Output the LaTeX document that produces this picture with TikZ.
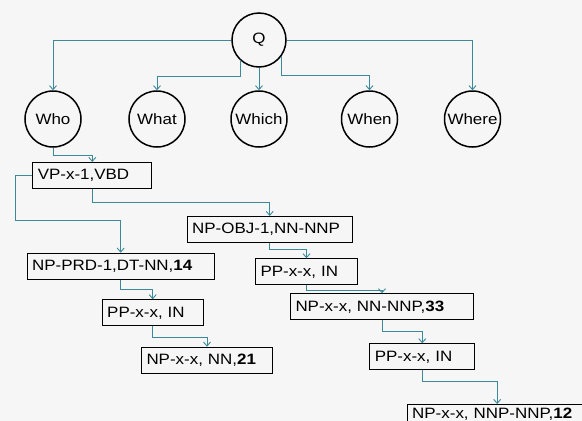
\documentclass[tikz,border=0pt]{standalone}
\usepackage{fontspec}
\setmainfont{Liberation Sans}[FakeStretch=1.13]
\usetikzlibrary{arrows.meta}
\definecolor{linkteal}{RGB}{58,138,155}
\definecolor{paper}{RGB}{246,246,246}

\begin{document}
\begin{tikzpicture}[
    x=1pt, y=-1pt,
    qnode/.style={circle, draw, line width=1.5pt, minimum size=#1, inner sep=0pt, font=\fontsize{15}{18}\selectfont},
    tag/.style={rectangle, draw, line width=1pt, anchor=north west, text width=#1, align=left, minimum height=26pt, inner xsep=5pt, inner ysep=0pt, font=\fontsize{15}{18}\selectfont},
    arrow/.style={-{Straight Barb[length=4pt,width=7pt]}, draw=linkteal, line width=0.9pt}
]

% Background
\path[use as bounding box, fill=paper] (0,0) rectangle (582,421);

% Question root and wh-words
\node[qnode=54] (q) at (259,40) {Q};
\node[qnode=56] (who) at (53,119) {Who};
\node[qnode=56] (what) at (157,119) {What};
\node[qnode=56] (which) at (259,119) {Which};
\node[qnode=56] (when) at (369.5,119) {When};
\node[qnode=56] (where) at (472.5,119) {Where};

% Parse boxes
\node[tag=109] (vp) at (32.3,162) {VP-x-1,VBD};
\node[tag=155] (npobj) at (186.7,216) {NP-OBJ-1,NN-NNP};
\node[tag=177] (nprd) at (26.7,252.7) {NP-PRD-1,DT-NN,\textbf{14}};
\node[tag=91] (ppleft) at (101.7,299.3) {PP-x-x, IN};
\node[tag=121] (npnn) at (141,346.7) {NP-x-x, NN,\textbf{21}};
\node[tag=92] (ppright) at (255,258.3) {PP-x-x, IN};
\node[tag=173] (npnnp) at (290,293.3) {NP-x-x, NN-NNP,\textbf{33}};
\node[tag=95] (pplast) at (369.3,343.3) {PP-x-x, IN};
\node[tag=170, minimum height=18.5pt] (npend) at (406.7,404) {NP-x-x, NNP-NNP,\textbf{12}};

% Arrows from Q
\draw[arrow] (q.west) -| (who.north);
\draw[arrow] (q.227) -- ++(0,16) -| (what.north);
\draw[arrow] (q.south) -- (which.north);
\draw[arrow] (q.-35) -- ++(0,20) -| (when.north);
\draw[arrow] (q.east) -| (where.north);

% Arrows down the parse
\draw[arrow] (who.south) -- ++(0,7.5) -| (vp.north);
\draw[arrow] (vp.west) -- ++(-17.3,0) -- ++(0,45) -| (nprd.north);
\draw[arrow] (vp.south) -- ++(0,13.7) -| (npobj.north);
\draw[arrow] (npobj.south) -- ++(0,6.3) -| (ppright.north);
\draw[arrow] (nprd.south) -- ++(0,9.7) -| (ppleft.north);
\draw[arrow] (ppleft.south) -- ++(0,10.7) -| (npnn.north);
\draw[arrow] (ppright.south) -- ++(0,5.6) -| (npnnp.north);
\draw[arrow] (npnnp.south) -- ++(0,11) -| (pplast.north);
\draw[arrow] (pplast.south) -- ++(0,11) -| (npend.north);

\end{tikzpicture}
\end{document}
